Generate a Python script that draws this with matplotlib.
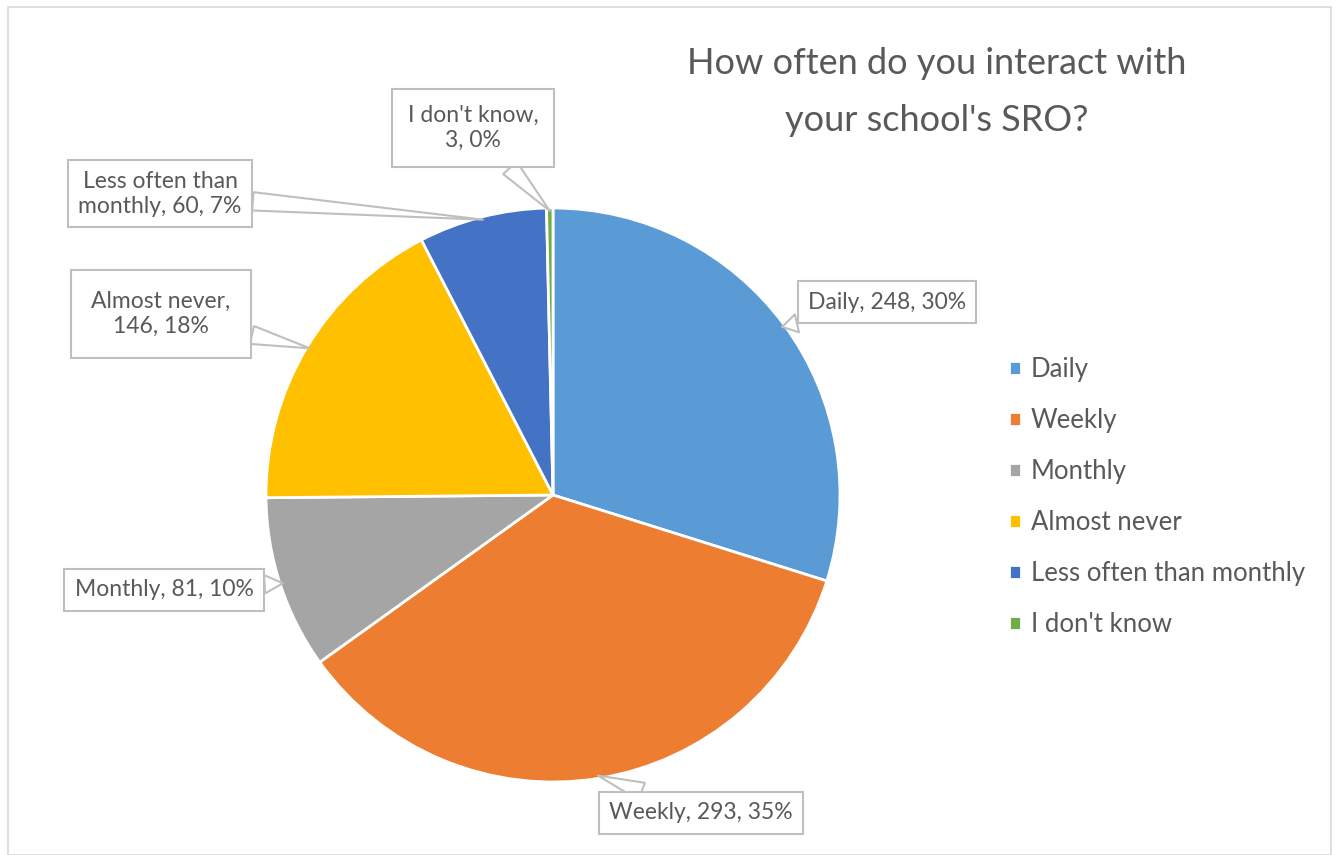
import numpy as np
import matplotlib.pyplot as plt
from matplotlib.patches import Rectangle

# Survey answers
categories = ['Daily', 'Weekly', 'Monthly', 'Almost never',
              'Less often than monthly', "I don't know"]
counts = [248, 293, 81, 146, 60, 3]
label_texts = ['Daily, 248, 30%', 'Weekly, 293, 35%', 'Monthly, 81, 10%',
               'Almost never,\n146, 18%', 'Less often than\nmonthly, 60, 7%',
               "I don't know,\n3, 0%"]
colors = ['#5B9BD5', '#ED7D31', '#A5A5A5', '#FFC000', '#4472C4', '#70AD47']

# where each callout box sits (data units, pie radius = 1) and its padding
label_pos = [(1.164, 0.672), (0.516, -1.108), (-1.355, -0.331),
             (-1.366, 0.631), (-1.369, 1.049), (-0.279, 1.279)]
box_pad = [0.45, 0.45, 0.45, 0.9, 0.45, 0.7]

plt.rcParams['font.family'] = ['Lato', 'DejaVu Sans']
text_col = '#595959'

fig = plt.figure(figsize=(13.39, 8.55), dpi=100)
fig.patches.append(Rectangle((8 / 1339, 0.0), 1323 / 1339, 1 - 7 / 855,
                             transform=fig.transFigure, fill=False,
                             ec='#d9d9d9', lw=1.2))

cx, cy, r = 553 / 1339, 1 - 495 / 855, 287
w, h = r / 1339, r / 855
ax = fig.add_axes([cx - w, cy - h, 2 * w, 2 * h])

wedges, _ = ax.pie(counts, colors=colors, startangle=90, counterclock=False,
                   radius=1, wedgeprops=dict(edgecolor='white', linewidth=2))
ax.set_xlim(-1, 1)
ax.set_ylim(-1, 1)
ax.set_aspect('equal')
ax.axis('off')

for wdg, txt, pos, pad in zip(wedges, label_texts, label_pos, box_pad):
    ang = np.deg2rad((wdg.theta1 + wdg.theta2) / 2)
    tip = (0.99 * np.cos(ang), 0.99 * np.sin(ang))
    ax.annotate(txt, xy=tip, xytext=pos, ha='center', va='center',
                fontsize=16.5, color=text_col, linespacing=1.25,
                annotation_clip=False,
                bbox=dict(boxstyle=f'square,pad={pad}', fc='white',
                          ec='#bfbfbf', lw=1.5),
                arrowprops=dict(arrowstyle='wedge,tail_width=0.8',
                                fc='white', ec='#bfbfbf', lw=1.5,
                                shrinkA=0, shrinkB=0))

fig.text(937 / 1339, 1 - 92 / 855,
         "How often do you interact with\nyour school's SRO?",
         ha='center', va='center', fontsize=26, color=text_col,
         linespacing=1.9)

fig.legend(wedges, categories, loc='upper left',
           bbox_to_anchor=(986 / 1339, 1 - 334 / 855), frameon=False,
           fontsize=18.5, labelcolor=text_col, handlelength=0.45,
           handleheight=0.45, handletextpad=0.4, labelspacing=1.01)

fig.savefig('out.png', dpi=100)
